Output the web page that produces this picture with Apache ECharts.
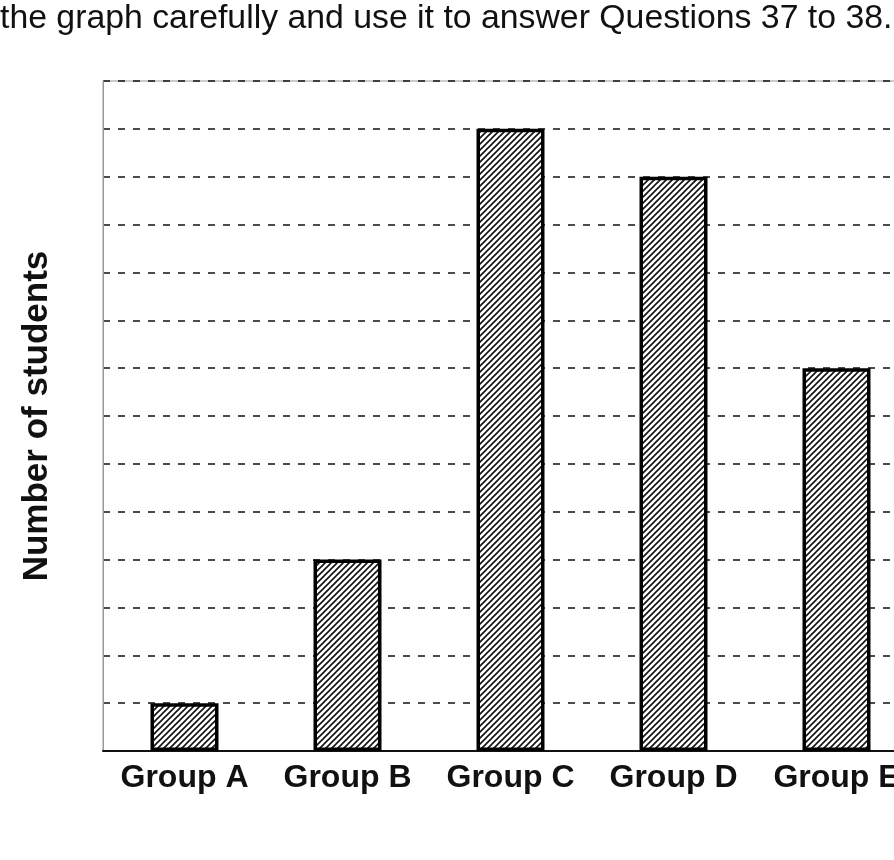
<!DOCTYPE html>
<html>
<head>
<meta charset="utf-8">
<script src="https://cdn.jsdelivr.net/npm/echarts@6/dist/echarts.min.js"></script>
<style>
html,body{margin:0;padding:0;background:#fff;}
#chart{width:894px;height:860px;}
</style>
</head>
<body>
<div id="chart"></div>
<script>
var categories = ['Group A', 'Group B', 'Group C', 'Group D', 'Group E'];
var studentCounts = [1, 4, 13, 12, 8];
var yMin = 0, yMax = 14, yInterval = 1;
var headerText = 'the graph carefully and use it to answer Questions 37 to 38.';
var yAxisTitle = 'Number of students';

// diagonal hatch pattern
var s = 6;
var pc = document.createElement('canvas');
pc.width = s; pc.height = s;
var ctx = pc.getContext('2d');
ctx.fillStyle = '#fff';
ctx.fillRect(0, 0, s, s);
ctx.strokeStyle = '#111';
ctx.lineWidth = 1.6;
ctx.beginPath();
ctx.moveTo(0, s); ctx.lineTo(s, 0);
ctx.moveTo(-s / 2, s / 2); ctx.lineTo(s / 2, -s / 2);
ctx.moveTo(s / 2, s * 1.5); ctx.lineTo(s * 1.5, s / 2);
ctx.stroke();

var chart = echarts.init(document.getElementById('chart'));
chart.setOption({
  backgroundColor: '#fff',
  animation: false,
  graphic: [{
    type: 'text',
    left: 0,
    top: 2,
    style: {
      text: headerText,
      font: '33.8px "Liberation Sans", Arial, sans-serif',
      fill: '#111'
    }
  }],
  grid: {
    left: 103, top: 81, width: 815, height: 670,
    outerBoundsMode: 'none',
    containLabel: false,
    show: true, borderColor: '#999', borderWidth: 1
  },
  xAxis: {
    type: 'category',
    data: categories,
    axisLine: { lineStyle: { color: '#111', width: 2 } },
    axisTick: { show: false },
    axisLabel: {
      fontFamily: '"Liberation Sans", Arial, sans-serif',
      fontWeight: 'bold',
      fontSize: 32,
      color: '#111',
      margin: 11,
      interval: 0,
      hideOverlap: false
    }
  },
  yAxis: {
    type: 'value',
    min: yMin, max: yMax, interval: yInterval,
    name: yAxisTitle,
    nameLocation: 'middle',
    nameGap: 48,
    nameTextStyle: {
      fontFamily: '"Liberation Sans", Arial, sans-serif',
      fontWeight: 'bold',
      fontSize: 35,
      color: '#111'
    },
    axisLine: { show: true, lineStyle: { color: '#999', width: 1 } },
    axisTick: { show: false },
    axisLabel: { show: false },
    splitLine: { show: true, lineStyle: { color: '#111', width: 1.5, type: [7, 8] } }
  },
  series: [{
    type: 'bar',
    data: studentCounts,
    barWidth: 68,
    itemStyle: {
      color: { image: pc, repeat: 'repeat' },
      borderColor: '#000',
      borderWidth: 3.5
    }
  }]
});
</script>
</body>
</html>
